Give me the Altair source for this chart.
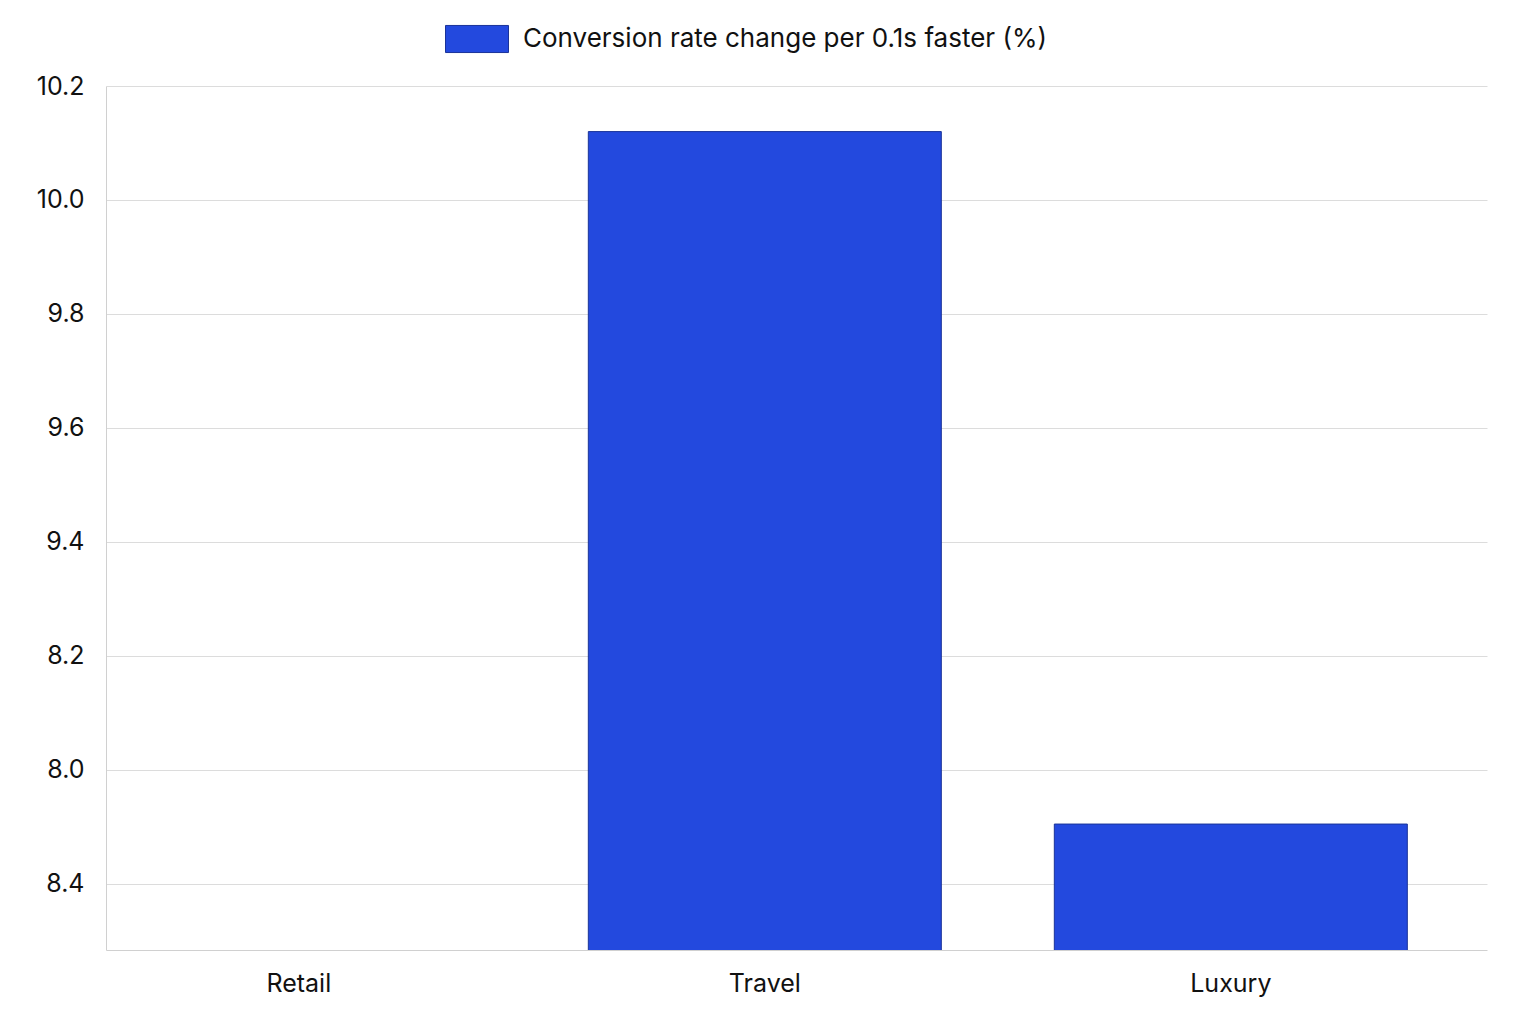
import pandas as pd
import altair as alt

# Values (y labels are printed as shown in the picture)
categories = ["Retail", "Travel", "Luxury"]
values = [8.60, 10.12, 8.905]
series_name = "Conversion rate change per 0.1s faster (%)"

tick_values = [8.8, 9.0, 9.2, 9.4, 9.6, 9.8, 10.0, 10.2]
tick_labels = ["8.4", "8.0", "8.2", "9.4", "9.6", "9.8", "10.0", "10.2"]

df = pd.DataFrame({"category": categories, "value": values, "series": series_name})

label_expr = " : ".join(
    f"abs(datum.value - {v}) < 0.001 ? '{t}'" for v, t in zip(tick_values, tick_labels)
) + " : ''"

FONT = "Inter"

bars = alt.Chart(df).mark_bar(stroke="#1a3399", strokeWidth=1, clip=True).encode(
    x=alt.X(
        "category:N",
        sort=categories,
        title=None,
        scale=alt.Scale(paddingInner=0.2425, paddingOuter=0.103, align=0.17),
        axis=alt.Axis(labelAngle=0, labelFontSize=25, labelColor="#111", labelPadding=21,
                      ticks=False, domainColor="#d0d0d0", grid=False, labelFont=FONT),
    ),
    y=alt.Y(
        "value:Q",
        title=None,
        scale=alt.Scale(domain=[8.684, 10.2], zero=False, nice=False),
        axis=alt.Axis(values=tick_values, labelExpr=label_expr, labelFontSize=25,
                      labelColor="#111", labelPadding=22, ticks=False,
                      domainColor="#d0d0d0", gridColor="#dcdcdc", labelFont=FONT),
    ),
    color=alt.Color(
        "series:N",
        scale=alt.Scale(range=["#2349de"]),
        legend=alt.Legend(
            title=None, orient="none", legendX=339, legendY=-79,
            symbolType="M-1,-0.43H1V0.43H-1Z", symbolSize=3969,
            symbolStrokeColor="#1a3399", symbolStrokeWidth=1,
            labelFontSize=26, labelColor="#111", labelFont=FONT, labelOffset=14,
            labelLimit=0,
        ),
    ),
)

chart = bars.properties(
    width=1381,
    height=864,
    autosize=alt.AutoSizeParams(type="none"),
    padding={"left": 98, "top": 78, "right": 41, "bottom": 66},
).configure_view(stroke=None)

chart.save("out.html", embed_options={"renderer": "svg", "actions": False})
